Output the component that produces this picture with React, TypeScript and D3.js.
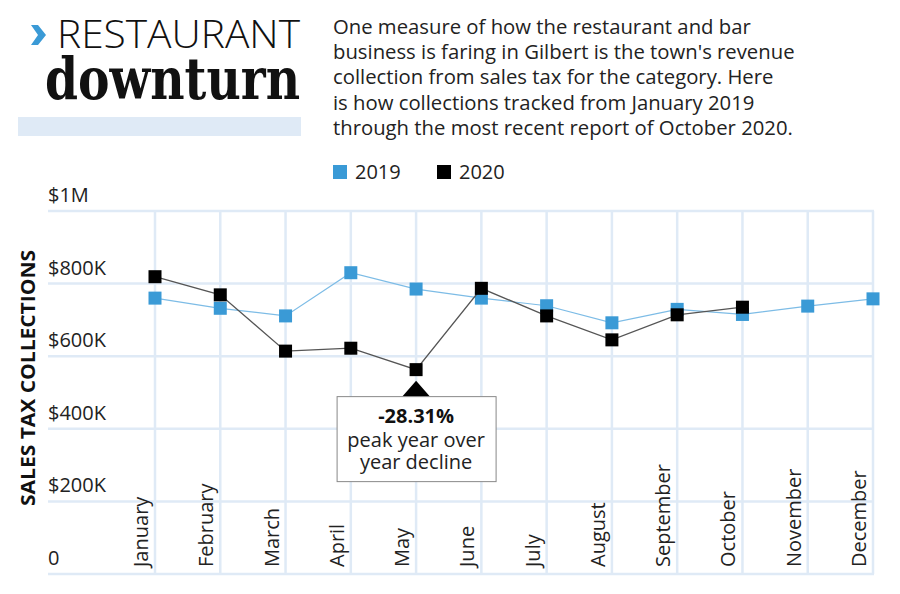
import { useEffect, useRef } from "react";
import * as d3 from "d3";

const months = ["January", "February", "March", "April", "May", "June", "July", "August", "September", "October", "November", "December"];
// sales tax collections, thousands of dollars
const sales2019 = [760, 732, 711, 830, 785, 760, 739, 692, 729, 715, 738, 758];
const sales2020 = [819, 769, 614, 622, 563, 787, 711, 645, 714, 735];
const yTicks = [0, 200, 400, 600, 800, 1000];
const yTickLabels = ["0", "$200K", "$400K", "$600K", "$800K", "$1M"];
const blurb = [
  "One measure of how the restaurant and bar",
  "business is faring in Gilbert is the town's revenue",
  "collection from sales tax for the category. Here",
  "is how collections tracked from January 2019",
  "through the most recent report of October 2020.",
];
const callout = { month: "May", pct: "-28.31%", lines: ["peak year over", "year decline"] };

const BLUE = "#3a9ad6";
const GRID = "#dfeaf6";
const FONT = "'Open Sans', 'Noto Sans', sans-serif";

export default function App() {
  const ref = useRef<SVGSVGElement>(null);
  useEffect(() => {
    document.body.style.margin = "0";
    if (!ref.current) return;
    const svg = d3.select(ref.current);
    svg.selectAll("*").remove();
    const W = 900, H = 594;
    svg.attr("viewBox", `0 0 ${W} ${H}`);
    svg.append("rect").attr("width", W).attr("height", H).attr("fill", "#fff");

    const x = d3.scalePoint<string>().domain(months).range([155, 873]);
    const y = d3.scaleLinear().domain([0, 1000]).range([574, 211]);

    // header
    svg.append("path").attr("d", "M31,25 L38,25 L46,35 L38,45 L31,45 L38,35 Z").attr("fill", BLUE);
    svg.append("text").attr("x", 57).attr("y", 48).text("RESTAURANT")
      .attr("font-family", FONT).attr("font-weight", 300).attr("font-size", 39)
      .attr("textLength", 243).attr("lengthAdjust", "spacingAndGlyphs").attr("fill", "#111");
    svg.append("text").attr("x", 45).attr("y", 99).text("downturn")
      .attr("font-family", "'DejaVu Serif', serif").attr("font-weight", 700).attr("font-size", 57)
      .attr("textLength", 255).attr("lengthAdjust", "spacingAndGlyphs").attr("fill", "#111");
    svg.append("rect").attr("x", 18).attr("y", 117).attr("width", 283).attr("height", 19).attr("fill", GRID);

    blurb.forEach((l, i) => {
      svg.append("text").attr("x", 333).attr("y", 34 + i * 25.2).text(l)
        .attr("font-family", FONT).attr("font-size", 20.3).attr("fill", "#222");
    });

    // legend
    const leg = [{ label: "2019", color: BLUE, x: 333 }, { label: "2020", color: "#000", x: 437 }];
    leg.forEach((d) => {
      svg.append("rect").attr("x", d.x).attr("y", 165).attr("width", 14).attr("height", 14).attr("fill", d.color);
      svg.append("text").attr("x", d.x + 22).attr("y", 179).text(d.label)
        .attr("font-family", FONT).attr("font-size", 20).attr("fill", "#222");
    });

    // grid
    const g = svg.append("g");
    yTicks.forEach((t, i) => {
      g.append("line").attr("x1", 48).attr("x2", 874).attr("y1", y(t)).attr("y2", y(t))
        .attr("stroke", GRID).attr("stroke-width", 2.5);
      svg.append("text").attr("x", 48).attr("y", y(t) - 9).text(yTickLabels[i])
        .attr("font-family", FONT).attr("font-size", 20).attr("fill", "#222");
    });
    months.forEach((m) => {
      g.append("line").attr("x1", x(m)!).attr("x2", x(m)!).attr("y1", y(1000)).attr("y2", y(0))
        .attr("stroke", GRID).attr("stroke-width", 2.5);
      svg.append("text").attr("transform", `translate(${x(m)! - 7},567) rotate(-90)`).text(m)
        .attr("font-family", FONT).attr("font-size", 20).attr("fill", "#222");
    });

    svg.append("text").attr("transform", "translate(35,378) rotate(-90)").attr("text-anchor", "middle")
      .text("SALES TAX COLLECTIONS").attr("font-family", FONT).attr("font-weight", 700)
      .attr("font-size", 19).attr("textLength", 256).attr("lengthAdjust", "spacingAndGlyphs").attr("fill", "#111");

    // series
    const series = [
      { data: sales2019, line: "#7dbce6", fill: BLUE, w: 1.2 },
      { data: sales2020, line: "#555", fill: "#000", w: 1.3 },
    ];
    series.forEach((s) => {
      const line = d3.line<number>().x((_, i) => x(months[i])!).y((d) => y(d));
      svg.append("path").attr("d", line(s.data)!).attr("fill", "none").attr("stroke", s.line).attr("stroke-width", s.w);
      s.data.forEach((d, i) => {
        svg.append("rect").attr("x", x(months[i])! - 6.5).attr("y", y(d) - 6.5)
          .attr("width", 13).attr("height", 13).attr("fill", s.fill);
      });
    });

    // callout
    const mi = months.indexOf(callout.month);
    const cx = x(callout.month)!;
    const top = y(sales2020[mi]) + 11;
    svg.append("path").attr("d", `M${cx},${top} L${cx + 14},${top + 16} L${cx - 14},${top + 16} Z`).attr("fill", "#000");
    svg.append("rect").attr("x", cx - 79).attr("y", top + 16).attr("width", 159).attr("height", 85)
      .attr("fill", "#fff").attr("stroke", "#888").attr("stroke-width", 1);
    svg.append("text").attr("x", cx).attr("y", top + 42).attr("text-anchor", "middle").text(callout.pct)
      .attr("font-family", FONT).attr("font-weight", 700).attr("font-size", 20).attr("fill", "#111");
    callout.lines.forEach((l, i) => {
      svg.append("text").attr("x", cx).attr("y", top + 66 + i * 22).attr("text-anchor", "middle").text(l)
        .attr("font-family", FONT).attr("font-size", 20).attr("fill", "#222");
    });
  }, []);
  return <svg ref={ref} width={900} height={594} style={{ display: "block" }} />;
}
